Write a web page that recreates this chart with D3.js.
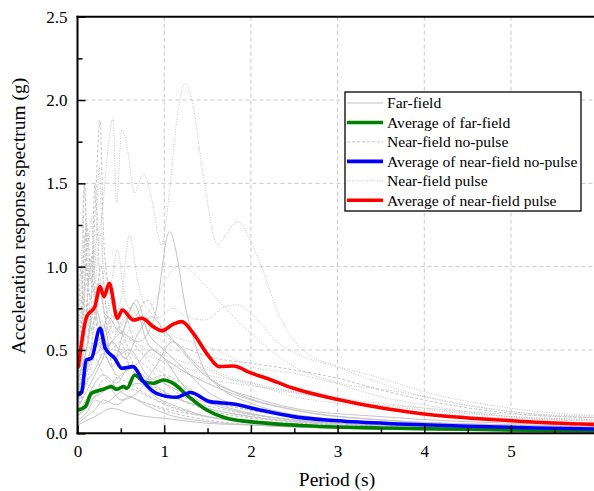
<!DOCTYPE html>
<html>
<head>
<meta charset="utf-8">
<script src="https://cdn.jsdelivr.net/npm/d3@7"></script>
<style>
  html, body { margin: 0; padding: 0; background: #fff; }
  svg { display: block; }
  text { font-family: "Liberation Serif", "Times New Roman", serif; fill: #000; }
</style>
</head>
<body>
<svg id="chart" width="594" height="491"></svg>
<script>
// ---------- DATA (period T in s, spectral acceleration S in g) ----------
const xTicks = [0, 1, 2, 3, 4, 5, 6];
const yTicks = [0.0, 0.5, 1.0, 1.5, 2.0, 2.5];
const xTitle = "Period (s)";
const yTitle = "Acceleration response spectrum (g)";

// Far-field records (solid grey)
const farField = [
  [[0,0.25],[0.1,0.4],[0.2,0.55],[0.3,0.5],[0.5,0.6],[0.7,0.55],[0.89,0.70],[1.06,1.21],[1.27,0.70],[1.5,0.35],[2,0.18],[3,0.08],[4,0.05],[5,0.035],[6.2,0.025]],
  [[0,0.12],[0.1,0.2],[0.2,0.3],[0.3,0.35],[0.45,0.3],[0.6,0.4],[0.75,0.35],[1.0,0.25],[1.5,0.15],[2,0.1],[3,0.05],[4,0.03],[6.2,0.015]],
  [[0,0.2],[0.15,0.45],[0.25,0.5],[0.35,0.7],[0.5,0.6],[0.65,0.78],[0.8,0.55],[1.0,0.45],[1.2,0.3],[1.6,0.18],[2,0.12],[3,0.06],[4,0.04],[6.2,0.02]],
  [[0,0.08],[0.1,0.12],[0.2,0.2],[0.3,0.18],[0.5,0.25],[0.7,0.3],[0.9,0.22],[1.2,0.15],[1.5,0.1],[2,0.07],[3,0.04],[6.2,0.012]],
  [[0,0.3],[0.1,0.5],[0.2,0.75],[0.3,0.6],[0.4,0.45],[0.6,0.5],[0.8,0.35],[1.0,0.3],[1.3,0.22],[1.7,0.15],[2.5,0.08],[3.5,0.05],[6.2,0.02]],
  [[0,0.05],[0.2,0.1],[0.4,0.15],[0.6,0.12],[0.8,0.1],[1.0,0.09],[1.5,0.06],[2,0.05],[3,0.03],[6.2,0.01]],
  [[0,0.15],[0.1,0.25],[0.25,0.4],[0.4,0.55],[0.55,0.45],[0.7,0.6],[0.85,0.7],[1.0,0.62],[1.2,0.5],[1.4,0.38],[1.8,0.25],[2.5,0.14],[3.5,0.08],[5,0.05],[6.2,0.04]],
  [[0,0.1],[0.1,0.15],[0.2,0.22],[0.35,0.28],[0.5,0.2],[0.7,0.25],[0.9,0.4],[1.1,0.55],[1.3,0.45],[1.6,0.3],[2,0.22],[2.5,0.15],[3.5,0.1],[5,0.06],[6.2,0.05]],
  [[0,0.06],[0.1,0.1],[0.2,0.14],[0.3,0.2],[0.45,0.17],[0.6,0.22],[0.75,0.18],[1,0.12],[1.5,0.07],[2,0.05],[3,0.03],[6.2,0.01]],
  [[0,0.18],[0.1,0.3],[0.2,0.38],[0.3,0.48],[0.4,0.4],[0.55,0.65],[0.68,0.8],[0.8,0.62],[1.0,0.5],[1.2,0.4],[1.5,0.25],[2,0.15],[3,0.08],[4,0.05],[6.2,0.03]],
  [[0,0.1],[0.15,0.2],[0.3,0.25],[0.5,0.35],[0.7,0.42],[0.85,0.5],[1.0,0.45],[1.2,0.38],[1.5,0.3],[2,0.2],[2.5,0.14],[3.5,0.08],[5,0.05],[6.2,0.04]]
];

// Near-field no-pulse records (dashed grey)
const nearNoPulse = [
  [[0,0.35],[0.05,0.6],[0.1,1.0],[0.15,0.8],[0.2,1.3],[0.26,1.88],[0.3,1.2],[0.35,0.9],[0.45,0.7],[0.6,0.5],[0.8,0.4],[1.0,0.3],[1.3,0.2],[1.7,0.14],[2.5,0.08],[4,0.04],[6.2,0.02]],
  [[0,0.3],[0.05,0.7],[0.08,1.5],[0.12,0.9],[0.18,1.1],[0.22,0.7],[0.3,0.6],[0.4,0.45],[0.55,0.5],[0.7,0.35],[1.0,0.25],[1.5,0.15],[2,0.1],[3,0.06],[6.2,0.02]],
  [[0,0.4],[0.04,1.0],[0.07,0.7],[0.11,1.25],[0.16,0.9],[0.2,1.5],[0.25,1.0],[0.32,0.7],[0.4,0.55],[0.55,0.45],[0.8,0.3],[1.1,0.22],[1.5,0.14],[2.5,0.07],[6.2,0.015]],
  [[0,0.2],[0.05,0.4],[0.1,0.6],[0.15,0.5],[0.2,0.7],[0.25,0.55],[0.3,0.65],[0.4,0.4],[0.5,0.3],[0.7,0.25],[1,0.18],[1.5,0.1],[2,0.07],[3,0.04],[6.2,0.012]],
  [[0,0.25],[0.06,0.5],[0.12,0.8],[0.17,0.6],[0.23,0.9],[0.3,0.75],[0.38,0.5],[0.5,0.55],[0.6,0.4],[0.8,0.32],[1.0,0.35],[1.2,0.3],[1.5,0.2],[2,0.14],[3,0.08],[4,0.06],[6.2,0.04]],
  [[0,0.15],[0.1,0.3],[0.2,0.45],[0.3,0.35],[0.4,0.3],[0.5,0.25],[0.7,0.2],[1,0.15],[1.5,0.1],[2.5,0.06],[6.2,0.02]],
  [[0,0.2],[0.1,0.35],[0.2,0.5],[0.35,0.6],[0.5,0.75],[0.65,0.7],[0.8,0.8],[1.0,0.6],[1.3,0.5],[1.6,0.45],[2,0.42],[2.5,0.38],[3,0.33],[3.5,0.26],[4,0.2],[5,0.12],[6.2,0.09]],
  [[0,0.3],[0.05,0.8],[0.09,1.2],[0.13,0.6],[0.18,0.9],[0.24,0.6],[0.3,0.5],[0.45,0.35],[0.6,0.3],[0.9,0.2],[1.3,0.12],[2,0.07],[3,0.04],[6.2,0.01]],
  [[0,0.28],[0.05,0.45],[0.1,0.7],[0.15,1.05],[0.2,0.8],[0.27,1.0],[0.33,0.75],[0.42,0.6],[0.55,0.7],[0.65,0.55],[0.8,0.45],[1,0.35],[1.3,0.25],[1.8,0.16],[2.5,0.1],[4,0.05],[6.2,0.03]],
  [[0,0.12],[0.05,0.2],[0.1,0.3],[0.2,0.25],[0.3,0.32],[0.4,0.28],[0.6,0.22],[0.8,0.18],[1.0,0.14],[1.5,0.08],[2.5,0.04],[6.2,0.01]]
];

// Near-field pulse records (dotted grey)
const nearPulse = [
  [[0,0.35],[0.05,0.6],[0.1,0.9],[0.15,0.8],[0.2,1.1],[0.28,1.3],[0.35,1.7],[0.41,1.89],[0.45,1.38],[0.51,1.82],[0.56,1.75],[0.66,1.44],[0.76,1.56],[0.85,1.42],[0.97,1.13],[1.05,1.4],[1.15,1.9],[1.24,2.1],[1.32,2.0],[1.45,1.55],[1.62,1.13],[1.72,1.2],[1.85,1.27],[2.0,1.15],[2.12,1.0],[2.35,0.68],[2.6,0.5],[3,0.4],[3.5,0.3],[4,0.22],[5,0.13],[6.2,0.09]],
  [[0,0.3],[0.1,0.5],[0.2,0.8],[0.3,0.6],[0.4,0.7],[0.5,0.65],[0.6,0.75],[0.75,0.7],[0.9,0.8],[1.05,0.95],[1.16,1.01],[1.27,0.99],[1.45,0.9],[1.62,0.8],[2.0,0.6],[2.5,0.4],[3,0.3],[3.5,0.22],[4,0.17],[5,0.1],[6.2,0.07]],
  [[0,0.2],[0.1,0.5],[0.2,0.7],[0.3,0.9],[0.4,0.7],[0.5,0.8],[0.6,1.19],[0.7,0.9],[0.8,0.75],[0.95,0.7],[1.1,0.75],[1.25,0.7],[1.47,0.68],[1.7,0.76],[1.85,0.77],[2.0,0.72],[2.3,0.55],[2.6,0.46],[3,0.4],[3.5,0.33],[4,0.25],[5,0.15],[6.2,0.1]],
  [[0,0.45],[0.04,0.9],[0.08,1.5],[0.12,1.1],[0.16,1.3],[0.2,0.9],[0.26,1.2],[0.32,0.8],[0.4,0.65],[0.55,0.6],[0.7,0.5],[0.9,0.45],[1.2,0.4],[1.5,0.35],[2,0.3],[2.5,0.22],[3,0.18],[4,0.12],[5,0.09],[6.2,0.07]],
  [[0,0.35],[0.06,0.7],[0.1,1.27],[0.14,0.9],[0.2,1.0],[0.25,1.6],[0.3,1.0],[0.38,0.9],[0.46,1.1],[0.55,0.8],[0.7,0.7],[0.85,0.6],[1,0.55],[1.3,0.45],[1.7,0.35],[2.2,0.28],[3,0.2],[4,0.14],[5,0.1],[6.2,0.08]],
  [[0,0.25],[0.1,0.4],[0.2,0.55],[0.3,0.5],[0.45,0.6],[0.6,0.7],[0.8,0.65],[1,0.6],[1.3,0.55],[1.6,0.5],[2,0.4],[2.5,0.36],[3,0.3],[3.7,0.25],[4.5,0.17],[5.2,0.12],[6.2,0.1]],
  [[0,0.3],[0.05,0.5],[0.1,0.75],[0.18,0.6],[0.25,0.9],[0.32,0.7],[0.4,0.8],[0.5,0.6],[0.65,0.55],[0.8,0.5],[1,0.42],[1.3,0.35],[1.8,0.3],[2.5,0.25],[3,0.2],[4,0.15],[5,0.1],[6.2,0.08]],
  [[0,0.2],[0.1,0.35],[0.2,0.5],[0.3,0.45],[0.4,0.55],[0.5,0.5],[0.6,0.62],[0.75,0.55],[0.9,0.5],[1.1,0.45],[1.4,0.4],[1.8,0.32],[2.5,0.24],[3,0.21],[3.5,0.18],[4.5,0.13],[6.2,0.09]]
];

// Averages
const avgFarField = [[0.01,0.14],[0.09,0.16],[0.16,0.24],[0.30,0.264],[0.39,0.28],[0.45,0.264],[0.53,0.28],[0.57,0.27],[0.66,0.35],[0.76,0.31],[0.875,0.30],[0.99,0.32],[1.105,0.30],[1.26,0.23],[1.49,0.14],[1.72,0.09],[2.10,0.064],[2.57,0.047],[3.5,0.032],[4.5,0.024],[5.5,0.017],[6.2,0.014]];
const avgNoPulse = [[0.01,0.23],[0.05,0.25],[0.10,0.44],[0.16,0.45],[0.26,0.63],[0.32,0.51],[0.43,0.45],[0.51,0.39],[0.64,0.40],[0.76,0.31],[0.91,0.24],[1.14,0.216],[1.30,0.245],[1.53,0.19],[1.80,0.176],[2.10,0.14],[2.49,0.10],[3.0,0.075],[3.72,0.056],[4.5,0.042],[5.3,0.032],[6.2,0.024]];
const avgPulse = [[0.01,0.40],[0.106,0.70],[0.20,0.76],[0.26,0.88],[0.305,0.82],[0.367,0.90],[0.46,0.69],[0.517,0.74],[0.644,0.68],[0.74,0.69],[0.874,0.64],[0.97,0.615],[1.105,0.655],[1.20,0.67],[1.336,0.60],[1.49,0.48],[1.64,0.40],[1.80,0.404],[1.99,0.364],[2.18,0.33],[2.49,0.27],[3.03,0.20],[3.53,0.15],[4.10,0.11],[4.87,0.08],[5.5,0.062],[6.2,0.05]];

const legendLabels = ["Far-field", "Average of far-field", "Near-field no-pulse",
  "Average of near-field no-pulse", "Near-field pulse", "Average of near-field pulse"];

// ---------- LAYOUT ----------
const svg = d3.select("#chart");
const L = 77.5, T = 16.7, B = 433.3;
const x = d3.scaleLinear().domain([0, 6]).range([L, 597.7]);
const y = d3.scaleLinear().domain([0, 2.5]).range([B, T]);
const R = 640; // plot extends past the window edge

const grey = "#c4c4c4";
const styles = {
  far:   { stroke: grey, width: 1, dash: null },
  np:    { stroke: grey, width: 1, dash: "3,2" },
  pulse: { stroke: grey, width: 1, dash: "1,1.5" }
};

svg.append("defs").append("clipPath").attr("id", "clip")
  .append("rect").attr("x", L).attr("y", T).attr("width", R - L).attr("height", B - T);

// grid
const grid = svg.append("g");
xTicks.filter(d => d > 0).forEach(d => {
  grid.append("line").attr("x1", x(d)).attr("x2", x(d)).attr("y1", T).attr("y2", B)
    .attr("stroke", "#c8c8c8").attr("stroke-width", 1).attr("stroke-dasharray", "4,3");
});
yTicks.filter(d => d > 0 && d < 2.5).forEach(d => {
  grid.append("line").attr("x1", L).attr("x2", R).attr("y1", y(d)).attr("y2", y(d))
    .attr("stroke", "#c8c8c8").attr("stroke-width", 1).attr("stroke-dasharray", "4,3");
});

const line = d3.line().x(d => x(d[0])).y(d => y(d[1])).curve(d3.curveMonotoneX);
const plot = svg.append("g").attr("clip-path", "url(#clip)");

function drawSet(set, st) {
  set.forEach(rec => {
    plot.append("path").datum(rec).attr("d", line).attr("fill", "none")
      .attr("stroke", st.stroke).attr("stroke-width", st.width)
      .attr("stroke-dasharray", st.dash);
  });
}
function drawAvg(rec, color) {
  plot.append("path").datum(rec).attr("d", line).attr("fill", "none")
    .attr("stroke", color).attr("stroke-width", 3.6)
    .attr("stroke-linejoin", "round").attr("stroke-linecap", "round");
}
drawSet(farField, styles.far);
drawSet(nearNoPulse, styles.np);
drawSet(nearPulse, styles.pulse);
drawAvg(avgFarField, "#008000");
drawAvg(avgNoPulse, "#0000ff");
drawAvg(avgPulse, "#ff0000");

// axes
const yAxis = d3.axisLeft(y).tickValues(yTicks).tickSizeInner(-8).tickSizeOuter(0).tickPadding(10)
  .tickFormat(d3.format(".1f"));
const yMinor = d3.axisLeft(y).tickValues(d3.range(0.25, 2.5, 0.5)).tickSize(-5).tickFormat("");
const xAxis = d3.axisBottom(x).tickValues(xTicks).tickSizeInner(-8).tickSizeOuter(0).tickPadding(12)
  .tickFormat(d3.format("d"));
const xMinor = d3.axisBottom(x).tickValues(d3.range(0.5, 6, 1)).tickSize(-5).tickFormat("");

const gy = svg.append("g").attr("transform", `translate(${L},0)`).call(yAxis);
svg.append("g").attr("transform", `translate(${L},0)`).call(yMinor).select(".domain").remove();
const gx = svg.append("g").attr("transform", `translate(0,${B})`).call(xAxis);
svg.append("g").attr("transform", `translate(0,${B})`).call(xMinor).select(".domain").remove();

[gy, gx].forEach(g => {
  g.select(".domain").remove();
  g.selectAll(".tick text").style("font-family", '"Liberation Serif", serif').style("font-size", "17px").attr("fill", "#000");
});
svg.selectAll(".tick line").attr("stroke", "#000").attr("stroke-width", 1.5);

// frame lines
svg.append("line").attr("x1", L).attr("x2", L).attr("y1", T - 1).attr("y2", B + 1).attr("stroke", "#000").attr("stroke-width", 2);
svg.append("line").attr("x1", L - 1).attr("x2", R).attr("y1", B).attr("y2", B).attr("stroke", "#000").attr("stroke-width", 2);
svg.append("line").attr("x1", L - 1).attr("x2", R).attr("y1", T).attr("y2", T).attr("stroke", "#000").attr("stroke-width", 2);

// titles
svg.append("text").attr("x", 337).attr("y", 486).attr("text-anchor", "middle")
  .style("font-size", "19.5px").text(xTitle);
svg.append("text").attr("transform", "translate(25,216) rotate(-90)").attr("text-anchor", "middle")
  .style("font-size", "19.5px").text(yTitle);

// legend
const lg = svg.append("g");
lg.append("rect").attr("x", 345).attr("y", 92).attr("width", 236).attr("height", 119)
  .attr("fill", "#fff").attr("stroke", "#000").attr("stroke-width", 1.3);
const legendStyles = [
  { stroke: grey, width: 1, dash: null },
  { stroke: "#008000", width: 3.6, dash: null },
  { stroke: grey, width: 1, dash: "3,2" },
  { stroke: "#0000ff", width: 3.6, dash: null },
  { stroke: grey, width: 1, dash: "1,1.5" },
  { stroke: "#ff0000", width: 3.6, dash: null }
];
legendLabels.forEach((lab, i) => {
  const cy = 103 + i * 19.45;
  lg.append("line").attr("x1", 347).attr("x2", 383).attr("y1", cy).attr("y2", cy)
    .attr("stroke", legendStyles[i].stroke).attr("stroke-width", legendStyles[i].width)
    .attr("stroke-dasharray", legendStyles[i].dash);
  lg.append("text").attr("x", 387).attr("y", cy + 5.3).style("font-size", "15.6px").text(lab);
});
</script>
</body>
</html>
